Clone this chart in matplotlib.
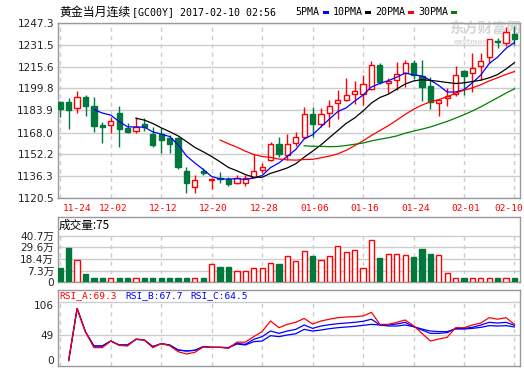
import numpy as np
import pandas as pd
import matplotlib
matplotlib.use("Agg")
import matplotlib.pyplot as plt
import matplotlib.transforms as mtransforms
from matplotlib.patches import Rectangle

W, H = 524, 369

# ---------------- data ----------------
open_ = [1190.2, 1190.2, 1185.6, 1193.6, 1187.3, 1173.5, 1173.5, 1182.4, 1171.1, 1169.1,
         1174.0, 1166.9, 1166.9, 1163.8, 1164.3, 1140.1, 1128.3, 1140.1, 1134.0, 1135.5,
         1134.1, 1131.2, 1131.2, 1136.0, 1140.8, 1148.1, 1159.5, 1151.5, 1160.6, 1165.0,
         1181.3, 1174.2, 1182.0, 1189.2, 1191.6, 1196.0, 1196.0, 1199.6, 1217.0, 1203.7,
         1205.6, 1211.0, 1218.3, 1208.5, 1201.3, 1189.2, 1192.9, 1196.0, 1212.7, 1211.0,
         1216.3, 1222.6, 1233.9, 1232.8, 1239.5]
high = [1191.1, 1192.6, 1198.2, 1195.3, 1193.6, 1175.7, 1179.1, 1187.3, 1175.2, 1179.1,
        1178.3, 1171.8, 1171.1, 1166.2, 1164.8, 1143.2, 1137.0, 1142.1, 1135.0, 1139.6,
        1136.0, 1137.2, 1137.2, 1152.4, 1145.7, 1161.4, 1165.0, 1167.0, 1168.6, 1186.3,
        1186.3, 1185.6, 1191.6, 1198.9, 1207.4, 1204.9, 1209.8, 1219.9, 1218.3, 1207.4,
        1219.0, 1220.2, 1220.7, 1220.7, 1208.1, 1191.6, 1200.1, 1215.8, 1212.9, 1225.5,
        1225.5, 1235.7, 1236.4, 1244.4, 1244.8]
low = [1179.5, 1170.8, 1182.4, 1180.2, 1168.6, 1160.6, 1167.5, 1157.7, 1167.9, 1167.5,
       1169.4, 1157.3, 1153.4, 1153.4, 1142.0, 1124.4, 1124.4, 1137.2, 1127.5, 1131.6,
       1129.2, 1130.7, 1129.2, 1135.5, 1138.9, 1147.4, 1150.5, 1148.1, 1158.2, 1163.1,
       1164.6, 1172.3, 1172.3, 1177.8, 1190.9, 1188.5, 1188.0, 1198.4, 1203.2, 1196.5,
       1198.9, 1201.0, 1206.7, 1190.4, 1184.9, 1180.0, 1187.3, 1194.5, 1195.3, 1196.9,
       1206.1, 1218.3, 1229.2, 1230.3, 1231.5]
close = [1184.9, 1183.9, 1193.6, 1187.5, 1173.0, 1172.3, 1176.4, 1170.4, 1168.6, 1172.3,
         1171.8, 1159.2, 1162.6, 1159.5, 1142.8, 1131.6, 1133.6, 1138.9, 1134.4, 1134.1,
         1130.7, 1135.5, 1135.5, 1140.1, 1142.8, 1159.5, 1152.4, 1159.5, 1164.6, 1181.3,
         1174.0, 1181.3, 1187.5, 1191.6, 1194.8, 1198.2, 1203.0, 1217.0, 1204.2, 1204.9,
         1210.5, 1218.3, 1209.8, 1200.6, 1189.7, 1191.6, 1194.5, 1209.8, 1209.0, 1214.6,
         1219.9, 1235.7, 1233.2, 1240.5, 1235.7]
# volume in 万 (10k)
volume = [9.6, 28.7, 17.9, 4.5, 0.6, 0.6, 0.4, 0.6, 0.6, 0.4,
          0.6, 0.6, 0.6, 0.6, 0.6, 0.6, 0.4, 0.6, 13.7, 11.2,
          11.2, 7.0, 7.0, 10.2, 10.2, 14.6, 14.1, 21.3, 16.5, 26.1,
          21.3, 17.5, 21.3, 30.9, 25.1, 27.0, 9.9, 36.6, 19.8, 23.2,
          23.2, 22.3, 20.7, 28.4, 23.6, 22.3, 5.1, 0.4, 0.6, 0.4,
          0.4, 0.4, 0.6, 0.4, 0.6]
rsi_a = [np.nan, 0, 100, 55, 24.7, 24.7, 37.5, 29.0, 27.9, 41.3,
         39.4, 24.7, 32.4, 28.6, 17.0, 12.5, 15.7, 26.0, 25.3, 25.3,
         23.4, 35.3, 35.3, 45.9, 55.6, 76.0, 63.1, 69.5, 73.4, 80.9,
         70.2, 76.0, 79.4, 82.4, 83.7, 84.3, 85.6, 92.6, 69.5, 69.5,
         73.4, 77.9, 67.0, 52.2, 37.5, 41.3, 44.6, 63.1, 63.1, 68.3,
         72.1, 82.4, 79.4, 82.4, 69.3]
rsi_b = [np.nan, 0, 100, 55, 27.9, 27.9, 37.5, 29.8, 29.8, 40.7,
         39.4, 26.6, 32.4, 29.8, 20.2, 18.3, 19.6, 26.6, 25.3, 25.3,
         24.7, 33.0, 31.1, 40.7, 45.9, 56.7, 52.2, 56.7, 59.9, 68.3,
         61.8, 66.3, 68.9, 70.8, 72.1, 73.4, 75.4, 79.4, 68.3, 68.3,
         70.2, 73.4, 65.1, 58.6, 52.2, 52.2, 53.6, 61.8, 61.8, 63.8,
         68.3, 73.4, 72.1, 73.4, 67.7]
rsi_c = [np.nan, 0, 100, 55, 27.9, 27.9, 37.5, 29.8, 29.8, 40.7,
         39.4, 26.6, 32.4, 29.8, 20.2, 18.3, 19.6, 26.6, 25.3, 25.3,
         24.7, 31.7, 29.8, 36.2, 37.5, 47.8, 45.9, 49.0, 51.5, 59.9,
         56.7, 58.6, 61.2, 63.1, 64.4, 65.7, 67.6, 69.5, 68.3, 66.3,
         66.3, 68.3, 65.1, 60.5, 56.7, 55.6, 55.6, 60.5, 60.5, 61.8,
         63.8, 67.0, 66.3, 67.0, 64.5]

date_labels = ["11-24", "12-02", "12-12", "12-20", "12-28", "01-06", "01-16", "01-24", "02-01", "02-10"]
date_label_idx = [0, 6, 12, 18, 24, 30, 36, 42, 48, 54]
price_ticks = [1120.5, 1136.3, 1152.2, 1168.0, 1183.9, 1199.8, 1215.6, 1231.5, 1247.3]
vol_ticks = [-3.8, 7.3, 18.4, 29.6, 40.7]
vol_tick_labels = ["0", "7.3万", "18.4万", "29.6万", "40.7万"]
rsi_ticks = [0, 49, 106]
ma_periods = [5, 10, 20, 30]
ma_colors = ["#0000ff", "#000000", "#ff0000", "#008000"]
ma_names = ["5PMA", "10PMA", "20PMA", "30PMA"]

# ---------------- style ----------------
plt.rcParams["font.family"] = ["DejaVu Sans", "Noto Sans CJK SC"]
RED = "#ff0000"
GREEN = "#00783c"
FRAME = "#999999"
GRID = "#cccccc"
TXT = "#222222"

fig = plt.figure(figsize=(W / 100, H / 100), dpi=100)


def rect(l, t, r, b):
    return [l / W, 1 - b / H, (r - l) / W, (b - t) / H]


def ftext(x, y, s, **kw):
    return fig.text(x / W, 1 - y / H, s, **kw)


n = len(close)
x = np.arange(n)
XLIM = (-0.33, 54.6)
up = np.array(close) >= np.array(open_)


def style_axes(ax):
    for sp in ax.spines.values():
        sp.set_color(FRAME)
        sp.set_linewidth(1)
    ax.tick_params(length=0, labelsize=7.6, labelcolor=TXT, pad=2.5)
    ax.set_xlim(*XLIM)


# ---------------- price panel ----------------
axp = fig.add_axes(rect(57.5, 22.7, 519.5, 198.3))
style_axes(axp)
axp.set_ylim(price_ticks[0], price_ticks[-1])
axp.set_yticks(price_ticks)
axp.set_yticklabels([f"{v:.1f}" for v in price_ticks])
axp.yaxis.grid(True, color=GRID, lw=1, ls="-", zorder=0)
axp.set_xticks(date_label_idx)
axp.set_xticklabels([])
axp.xaxis.grid(True, color=GRID, lw=1, ls=(0, (3, 3)), zorder=0)
axp.set_axisbelow(True)

# date labels (red), between price and volume panels
base_tr = mtransforms.blended_transform_factory(axp.transData, axp.transAxes)
for k, (idx, lab) in enumerate(zip(date_label_idx, date_labels)):
    if k == 0:
        dx, ha = 2.5, "left"
    elif k == len(date_labels) - 1:
        dx, ha = 8.5, "right"
    else:
        dx, ha = 2.0, "center"
    off = mtransforms.ScaledTranslation(dx / 100, -5.5 / 100, fig.dpi_scale_trans)
    axp.text(idx, 0, lab, transform=base_tr + off, ha=ha, va="top", color=RED,
             family="DejaVu Sans Mono", fontsize=6.8, clip_on=False)

body_w = 0.62
for i in range(n):
    c = RED if up[i] else GREEN
    axp.vlines(x[i], low[i], high[i], color=c, lw=1, zorder=2)
    lo = min(open_[i], close[i])
    hgt = max(abs(close[i] - open_[i]), 0.35)
    axp.add_patch(Rectangle((x[i] - body_w / 2, lo), body_w, hgt,
                            facecolor="white" if up[i] else GREEN,
                            edgecolor=c, lw=1, zorder=3))

cs = pd.Series(close)
for p, col in zip(ma_periods, ma_colors):
    axp.plot(x, cs.rolling(p).mean(), color=col, lw=0.9, zorder=4)

# watermark
axp.text(485 / W, 1 - 30 / H, "东方财富网", transform=fig.transFigure, family="Noto Sans CJK SC",
         weight="bold", fontsize=10.4, color="#d6d6d6", ha="center", va="center", zorder=1.5)
axp.text(485 / W, 1 - 42 / H, "eastmoney.com", transform=fig.transFigure, family="DejaVu Sans",
         weight="bold", fontsize=5, color="#dddddd", ha="center", va="center", zorder=1.5)

# ---------------- volume panel ----------------
axv = fig.add_axes(rect(57.5, 216.7, 519.5, 282.3))
style_axes(axv)
VOL_MIN, VOL_TOP = -3.8, 58.8
axv.set_ylim(VOL_MIN, VOL_TOP)
axv.set_yticks(vol_ticks)
axv.set_yticklabels(vol_tick_labels)
axv.set_xticks([])
axv.yaxis.grid(True, color=GRID, lw=1, ls="-")
axv.set_axisbelow(True)
axv.vlines(date_label_idx, VOL_MIN, vol_ticks[-1], colors=GRID, lw=1, linestyles=(0, (3, 3)), zorder=0.5)
vol = np.array(volume)
axv.bar(x, vol - VOL_MIN, bottom=VOL_MIN, width=body_w,
        color=["white" if u else GREEN for u in up],
        edgecolor=[RED if u else GREEN for u in up], lw=1, zorder=3)

# ---------------- RSI panel ----------------
axr = fig.add_axes(rect(57.5, 290, 519.5, 366))
style_axes(axr)
RSI_LO, RSI_HI, RSI_HEAD = -10.6, 135.6, 112.5
axr.set_ylim(RSI_LO, RSI_HI)
axr.set_yticks(rsi_ticks)
axr.set_yticklabels([str(v) for v in rsi_ticks])
axr.set_xticks([])
axr.axhline(49, color=GRID, lw=1, zorder=0.5)
axr.axhline(RSI_HEAD, color=GRID, lw=1, zorder=0.5)
axr.vlines(date_label_idx, RSI_LO, RSI_HEAD, colors=GRID, lw=1, linestyles=(0, (3, 3)), zorder=0.5)
axr.plot(x, rsi_c, color="#0000ff", lw=0.9, zorder=3)
axr.plot(x, rsi_b, color="#0000ff", lw=0.9, zorder=3)
axr.plot(x, rsi_a, color=RED, lw=0.9, zorder=4)

# ---------------- header texts ----------------
ftext(59, 12.3, "黄金当月连续", family="Noto Sans CJK SC", fontsize=8.6, va="center", color="black")
ftext(132.5, 12.3, "[GC00Y] 2017-02-10 02:56", family="DejaVu Sans Mono", fontsize=7.2,
      va="center", color="black")
leg_text_x = [295, 333, 375, 418]
leg_rect_x = [323, 365, 408, 451]
for name, col, tx, rx in zip(ma_names, ma_colors, leg_text_x, leg_rect_x):
    ftext(tx, 12.3, name, family="DejaVu Sans Mono", fontsize=7.2, va="center", color="black")
    fig.patches.append(Rectangle((rx / W, 1 - 14.3 / H), 6 / W, 3 / H, transform=fig.transFigure,
                                 facecolor=col, edgecolor="none"))

ftext(59, 225, "成交量:75", family="Noto Sans CJK SC", fontsize=8.4, va="center", color="black")

rsi_hdr = [("RSI_A:%.1f" % rsi_a[-1], RED, 59.3), ("RSI_B:%.1f" % rsi_b[-1], "#0000ff", 125),
           ("RSI_C:%.1f" % rsi_c[-1], "#0000ff", 190.7)]
for s, col, tx in rsi_hdr:
    ftext(tx, 296, s, family="DejaVu Sans Mono", fontsize=6.8, va="center", color=col)

fig.savefig("out.png", dpi=100)
